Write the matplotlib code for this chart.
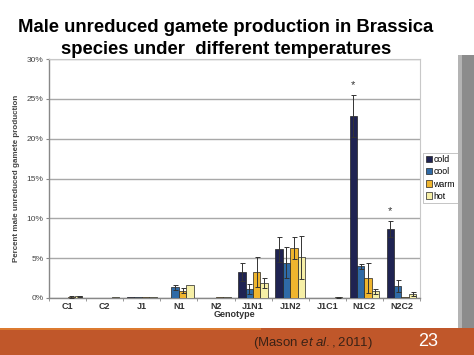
import numpy as np
import matplotlib
matplotlib.use("Agg")
import matplotlib.pyplot as plt
from matplotlib.patches import Rectangle

plt.rcParams['font.family'] = ['Liberation Sans', 'DejaVu Sans']
plt.rcParams['mathtext.fontset'] = 'custom'
plt.rcParams['mathtext.rm'] = 'Liberation Sans'
plt.rcParams['mathtext.it'] = 'Liberation Sans:italic'

# ---------------- DATA ----------------
genotypes = ["C1", "C2", "J1", "N1", "N2", "J1N1", "J1N2", "J1C1", "N1C2", "N2C2"]
temps = ["cold", "cool", "warm", "hot"]

cold = [0.05, 0.05, 0.08, 0.05, 0.05, 3.25, 6.1, 0.05, 22.85, 8.7]
cool = [0.05, 0.05, 0.1, 1.35, 0.05, 1.1, 4.45, 0.05, 4.0, 1.5]
warm = [0.1, 0.05, 0.1, 0.9, 0.08, 3.25, 6.3, 0.05, 2.55, 0.17]
hot = [0.2, 0.08, 0.08, 1.6, 0.1, 1.85, 5.1, 0.08, 0.85, 0.5]

cold_err = [0.0, 0.0, 0.0, 0.0, 0.0, 1.1, 1.6, 0.0, 2.6, 1.0]
cool_err = [0.0, 0.0, 0.0, 0.3, 0.0, 0.65, 1.9, 0.0, 0.3, 0.75]
warm_err = [0.1, 0.0, 0.0, 0.3, 0.0, 1.85, 1.4, 0.0, 1.9, 0.0]
hot_err = [0.1, 0.0, 0.0, 0.0, 0.0, 0.65, 2.7, 0.1, 0.3, 0.2]

significant = [False, False, False, False, False, False, False, False, True, True]

yticks = [0, 5, 10, 15, 20, 25, 30]

colors = ["#1f2352", "#2f6aa6", "#efb52e", "#f6efa6"]

# ---------------- FIGURE ----------------
W, H = 474, 355
fig = plt.figure(figsize=(W / 100, H / 100), dpi=100)
fig.patch.set_facecolor("white")

def px(x0, y0, x1, y1):
    # pixel box (top-left origin) -> figure fraction rect
    return [x0 / W, 1 - y1 / H, (x1 - x0) / W, (y1 - y0) / H]

# right gray strip
fig.patches.append(Rectangle((458 / W, 27 / H), 16 / W, 273 / H, transform=fig.transFigure,
                             facecolor="#8c8c8c", edgecolor="none", zorder=0))
fig.patches.append(Rectangle((458 / W, 27 / H), 4 / W, 273 / H, transform=fig.transFigure,
                             facecolor="#b4b4b4", edgecolor="none", zorder=0))
# footer band
fig.patches.append(Rectangle((0, 0), 1, 27 / H, transform=fig.transFigure,
                             facecolor="#c0572a", edgecolor="none", zorder=0))
fig.patches.append(Rectangle((0, 25.5 / H), 0.55, 2 / H, transform=fig.transFigure,
                             facecolor="#dc7a30", edgecolor="none", zorder=0))

ax = fig.add_axes(px(49, 59, 420, 298))

series = [cold, cool, warm, hot]
errs = [cold_err, cool_err, warm_err, hot_err]
x = np.arange(len(genotypes))
width = 0.2
for i, (vals, err) in enumerate(zip(series, errs)):
    pos = x + (i - 1.5) * width
    ax.bar(pos, vals, width, color=colors[i], edgecolor="#222222", linewidth=0.5,
           label=temps[i], zorder=3)
    mask = np.array(err) > 0
    ax.errorbar(pos[mask], np.array(vals)[mask], yerr=np.array(err)[mask], fmt="none",
                ecolor="#333333", elinewidth=0.7, capsize=1.8, capthick=0.7, zorder=4)

for k, sig in enumerate(significant):
    if sig:
        top = cold[k] + cold_err[k]
        ax.text(x[k] - 1.5 * width, top + 0.6, "*", ha="center", va="bottom",
                fontsize=8, color="#333333")

ax.set_xlim(-0.5, len(genotypes) - 0.5)
ax.set_ylim(0, 30)
ax.set_yticks(yticks)
ax.set_yticklabels([f"{t}%" for t in yticks], fontsize=6, color="#444444")
ax.set_xticks(x)
ax.set_xticklabels(genotypes, fontsize=6.5, color="#333333", fontweight="bold")
ax.set_xticks(np.arange(-0.5, len(genotypes), 1), minor=True)
ax.tick_params(axis="x", which="major", length=0, pad=3)
ax.tick_params(axis="x", which="minor", length=2, color="#888888")
ax.tick_params(axis="y", length=2, color="#888888", pad=2)
ax.grid(axis="y", color="#a8a8a8", linewidth=1.0, zorder=0)
for s in ["top", "right"]:
    ax.spines[s].set_color("#c8c8c8")
    ax.spines[s].set_linewidth(0.8)
ax.spines["left"].set_color("#888888")
ax.spines["bottom"].set_color("#888888")
ax.spines["left"].set_linewidth(1.0)
ax.spines["bottom"].set_linewidth(1.0)

ax.set_ylabel("Percent male unreduced gamete production", fontsize=5.8,
              fontweight="bold", color="#444444", labelpad=5)
ax.set_xlabel("Genotype", fontsize=6.5, fontweight="bold", color="#333333", labelpad=-1)

leg = ax.legend(loc="center left", bbox_to_anchor=(423 / W, 1 - 178 / H),
                bbox_transform=fig.transFigure, fontsize=6.3, frameon=True,
                fancybox=False, edgecolor="#aaaaaa", handlelength=0.7, handleheight=0.7,
                handletextpad=0.2, borderpad=0.3, labelspacing=0.35, borderaxespad=0)
leg.get_frame().set_linewidth(0.6)

# slide title
fig.text(226 / W, 1 - 27 / H, "Male unreduced gamete production in Brassica",
         ha="center", va="center", fontsize=13.3, fontweight="bold", color="black")
fig.text(226 / W, 1 - 49 / H, "species under  different temperatures",
         ha="center", va="center", fontsize=13.3, fontweight="bold", color="black")

# footer
fig.text(313 / W, 1 - 343 / H, r"$\mathrm{(Mason}\ \mathit{et\ al.}\mathrm{,2011)}$",
         ha="center", va="center", fontsize=9.5, color="#3a2216")
fig.text(428 / W, 1 - 341 / H, "23", ha="center", va="center", fontsize=13, color="white")

fig.savefig("out.png", dpi=100)
